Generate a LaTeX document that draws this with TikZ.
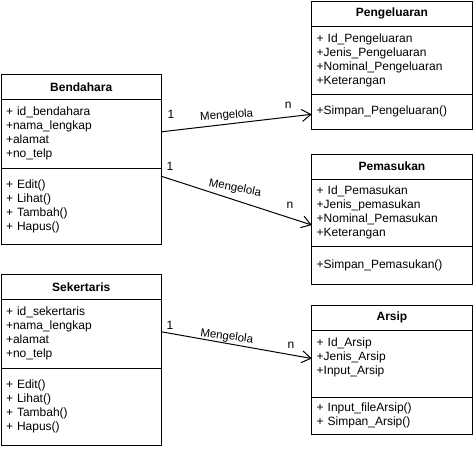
\documentclass[tikz,border=0pt]{standalone}
\usepackage{fontspec}
\setmainfont{Liberation Sans}
\usetikzlibrary{arrows.meta}
\usetikzlibrary{positioning}

\begin{document}
\begin{tikzpicture}[x=1pt, y=-1pt, line width=1pt,
  head/.style={draw, outer sep=0pt, anchor=north west, minimum width=160.5pt, minimum height=25pt, font=\fontsize{12}{14}\selectfont\bfseries},
  part/.style={draw, outer sep=0pt, text width=150.5pt, inner xsep=5pt, align=left, font=\fontsize{12}{14}\selectfont},
  rel/.style={-{Straight Barb[length=9pt,width=12pt]}},
  num/.style={font=\fontsize{12}{14}\selectfont},
  verb/.style={font=\fontsize{11.5}{13}\selectfont}]
\useasboundingbox (0,0) rectangle (473,448);

\node[head] (bendhead) at (1,74.3) {Bendahara};
\node[part, minimum height=69pt, below=0pt of bendhead] (bendattr) {+ id\_bendahara\\+nama\_lengkap\\+alamat\\+no\_telp};
\node[part, minimum height=76pt, below=0pt of bendattr] (bendmeth) {+ Edit()\\+ Lihat()\\+ Tambah()\\+ Hapus()};

\node[head] (sekhead) at (1,274.3) {Sekertaris};
\node[part, minimum height=69pt, below=0pt of sekhead] (sekattr) {+ id\_sekertaris\\+nama\_lengkap\\+alamat\\+no\_telp};
\node[part, minimum height=76.7pt, below=0pt of sekattr] (sekmeth) {+ Edit()\\+ Lihat()\\+ Tambah()\\+ Hapus()};

\node[head] (kelhead) at (311.7,1) {Pengeluaran};
\node[part, minimum height=68.3pt, below=0pt of kelhead] (kelattr) {+ Id\_Pengeluaran\\+Jenis\_Pengeluaran\\+Nominal\_Pengeluaran\\+Keterangan};
\node[part, minimum height=35pt, below=0pt of kelattr] (kelmeth) {+Simpan\_Pengeluaran()};

\node[head] (mashead) at (311.7,154) {Pemasukan};
\node[part, minimum height=67pt, below=0pt of mashead] (masattr) {+ Id\_Pemasukan\\+Jenis\_pemasukan\\+Nominal\_Pemasukan\\+Keterangan};
\node[part, minimum height=38pt, below=0pt of masattr] (masmeth) {+Simpan\_Pemasukan()};

\node[head] (arshead) at (311.7,305) {Arsip};
\node[part, minimum height=67pt, below=0pt of arshead] (arsattr) {+ Id\_Arsip\\+Jenis\_Arsip\\+Input\_Arsip\\\mbox{}};
\node[part, minimum height=37pt, below=0pt of arsattr] (arsmeth) {+ Input\_fileArsip()\\+ Simpan\_Arsip()};

\draw[rel] ([yshift=2pt]bendattr.east) -- ([yshift=-2.5pt]kelmeth.west);
\draw[rel] ([yshift=-8pt]bendmeth.north east) -- ([yshift=-12.5pt]masattr.west);
\draw[rel] ([yshift=2pt]sekattr.east) -- ([yshift=5pt]arsattr.west);

\node[num] (one1) at (171,114.3) {1};
\node[verb, rotate=4] (verb1) at (226.7,115.7) {Mengelola};
\node[num] (many1) at (288.3,105) {n};
\node[num] (one2) at (170,166) {1};
\node[verb, rotate=-11] (verb2) at (235,188.3) {Mengelola};
\node[num] (many2) at (290,205.7) {n};
\node[num] (one3) at (170,325) {1};
\node[verb, rotate=-7.5] (verb3) at (226.7,336.7) {Mengelola};
\node[num] (many3) at (291,345) {n};
\end{tikzpicture}
\end{document}
